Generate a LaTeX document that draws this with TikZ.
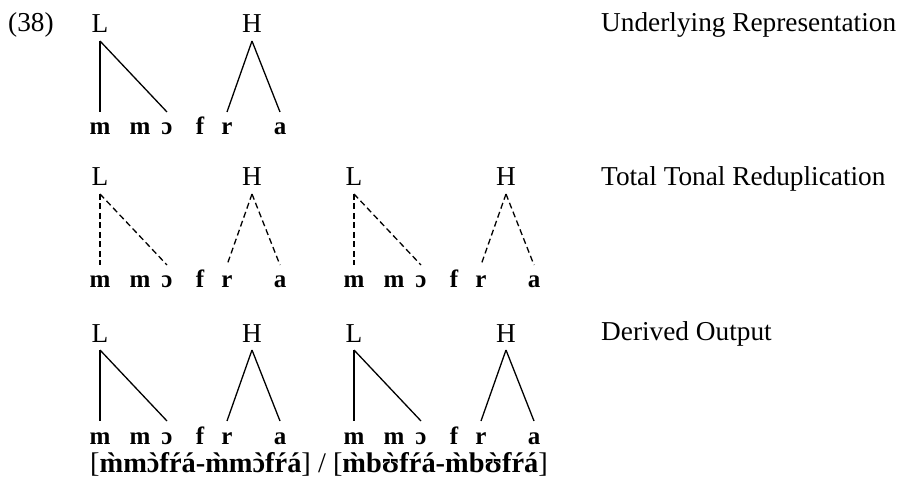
\documentclass[tikz,border=0pt]{standalone}
\usepackage{fontspec}
\setmainfont{Liberation Serif}
\usepackage{tikz}

% low tone mark set over a letter
\newcommand{\lt}[1]{{\accent"2CB #1}}

% one tier pair: tones L, H and the segments m m o f r a
\newcommand{\tonetiers}[4]{%
  \begin{scope}[shift={(#2,#3)}]
    \node[tone] (#1L) at (0,0) {L};
    \node[tone] (#1H) at (152,0) {H};
    \node[seg] (#1m) at (0,102) {m};
    \node[seg] (#1mm) at (40,102) {m};
    \node[seg] (#1o) at (67,102) {ɔ};
    \node[seg] (#1f) at (100,102) {f};
    \node[seg] (#1r) at (127,102) {r};
    \node[seg] (#1a) at (180,102) {a};
    \draw[#4] (#1L.south) -- (#1m.north);
    \draw[#4] (#1L.south) -- (#1o.north);
    \draw[#4] (#1H.south) -- (#1r.north);
    \draw[#4] (#1H.south) -- (#1a.north);
  \end{scope}}

\begin{document}
\begin{tikzpicture}[x=1pt,y=-1pt,font=\fontsize{27.3}{32}\selectfont,
    tone/.style={anchor=base,inner sep=0pt,outer sep=0pt,text depth=8pt},
    seg/.style={anchor=base,inner sep=0pt,outer sep=0pt,text height=23pt,font=\fontsize{25}{28}\selectfont\bfseries},
    assoc/.style={line width=1.3pt},
    spread/.style={line width=1.3pt,dash pattern=on 6pt off 3.5pt},
    rowlabel/.style={anchor=base west,inner sep=0pt}
]
\useasboundingbox (0,0) rectangle (905,486);

\node[rowlabel] (num) at (8,32) {(38)};

% underlying form
\tonetiers{u}{100}{33}{assoc}
\node[rowlabel] (ur) at (601,32) {Underlying Representation};

% reduplicated, tones only spread
\tonetiers{ra}{100}{186}{spread}
\tonetiers{rb}{354}{186}{spread}
\node[rowlabel] (ttr) at (601,186) {Total Tonal Reduplication};

% surface
\tonetiers{da}{100}{342}{assoc}
\tonetiers{db}{354}{342}{assoc}
\node[rowlabel] (out) at (601,341) {Derived Output};

\node[rowlabel,font=\fontsize{28.4}{32}\selectfont] (gloss) at (90,472)
  {[\textbf{\lt{m}m\lt{ɔ}fŕá-\lt{m}m\lt{ɔ}fŕá}] / [\textbf{\lt{m}b\lt{ʊ}fŕá-\lt{m}b\lt{ʊ}fŕá}]};
\end{tikzpicture}
\end{document}
